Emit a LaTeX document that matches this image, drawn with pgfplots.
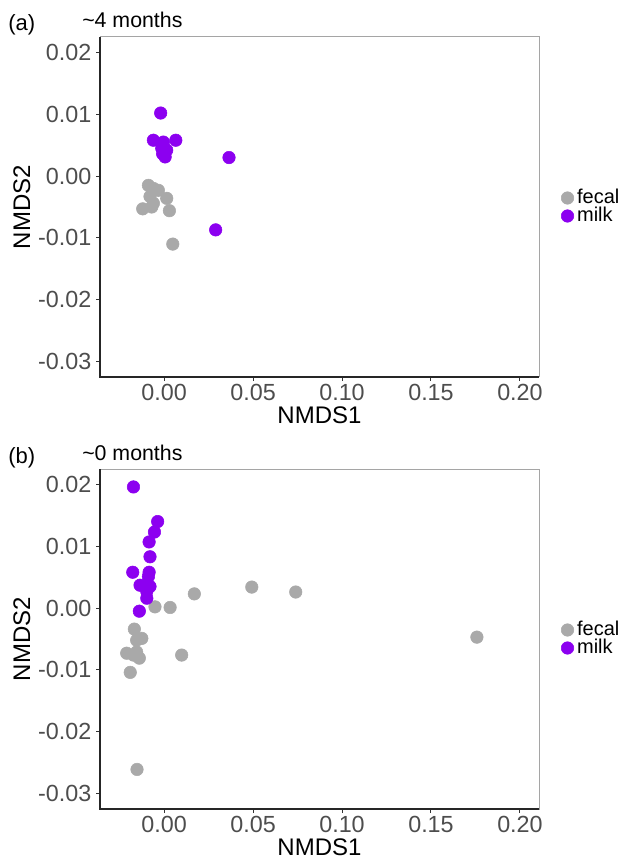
\documentclass[border=0pt]{standalone}
\usepackage{fontspec}
\setmainfont{Liberation Sans}
\usepackage{pgfplots}
\pgfplotsset{compat=1.18}
\definecolor{fecal}{RGB}{169,169,169}
\definecolor{milk}{RGB}{140,0,240}
\definecolor{tickgray}{RGB}{77,77,77}
\definecolor{framegray}{RGB}{165,165,165}

\pgfplotsset{
  nmds/.style={
    scale only axis, width=329.25pt, height=255pt,
    xmin=-0.036, xmax=0.2107, ymin=-0.0325, ymax=0.0225,
    xtick={0,0.05,0.1,0.15,0.2},
    xticklabels={0.00,0.05,0.10,0.15,0.20},
    ytick={-0.03,-0.02,-0.01,0,0.01,0.02},
    yticklabels={-0.03,-0.02,-0.01,0.00,0.01,0.02},
    scaled ticks=false,
    tick label style={font=\fontsize{17.5}{20}\selectfont, text=tickgray},
    xticklabel style={yshift=1pt},
    tick align=outside, major tick length=3pt,
    tick style={color=black!80, line width=0.75pt},
    xtick pos=bottom, ytick pos=left,
    axis line style={framegray, line width=0.75pt},
    label style={font=\fontsize{18}{20}\selectfont, text=black},
    xlabel={NMDS1}, ylabel={NMDS2},
    xlabel style={at={(axis description cs:0.5,-0.086)}, anchor=north, inner sep=0pt, text depth=0pt},
    ylabel style={at={(axis description cs:-0.1777,0.5)}, anchor=center, inner sep=0pt},
    legend cell align=left,
    legend style={at={(axis description cs:1.0501,0.5)}, anchor=west, draw=none, fill=none,
      inner sep=0pt, font=\fontsize{15}{15}\selectfont, row sep=0pt,
      nodes={inner sep=0pt, text height=10.8pt, text depth=2.7pt},
      /tikz/every odd column/.append style={column sep=2.5pt}},
    legend image code/.code={\draw[##1] plot coordinates {(0pt,0pt)};},
    after end axis/.code={\draw[black!85, line width=1.1pt] (rel axis cs:0,1) -- (rel axis cs:0,0) -- (rel axis cs:1,0);},
  },
  fecalpts/.style={only marks, mark=*, color=fecal, mark size=4.7pt},
  milkpts/.style={only marks, mark=*, color=milk, mark size=4.7pt},
}

\pgfplotstableread{
x y
-0.0088 -0.0015
-0.0060 -0.0020
-0.0032 -0.0023
0.0015 -0.0036
-0.0079 -0.0033
-0.0060 -0.0044
-0.0120 -0.0053
-0.0069 -0.0050
0.0030 -0.0056
0.0049 -0.0110
}\fecalA

\pgfplotstableread{
x y
-0.0019 0.0102
-0.0060 0.0058
0.0066 0.0058
-0.0004 0.0055
-0.0013 0.0045
0.0015 0.0042
-0.0008 0.0036
0.0006 0.0031
0.0365 0.0030
0.0290 -0.0087
}\milkA

\pgfplotstableread{
x y
-0.0051 0.0002
0.0034 0.0001
0.0170 0.0023
0.0493 0.0034
0.0740 0.0026
0.1758 -0.0047
0.0099 -0.0076
-0.0167 -0.0034
-0.0125 -0.0049
-0.0154 -0.0052
-0.0210 -0.0073
-0.0154 -0.0071
-0.0139 -0.0081
-0.0172 -0.0076
-0.0190 -0.0104
-0.0152 -0.0261
}\fecalB

\pgfplotstableread{
x y
-0.0172 0.0196
-0.0036 0.0140
-0.0054 0.0123
-0.0084 0.0107
-0.0079 0.0083
-0.0176 0.0058
-0.0084 0.0058
-0.0088 0.0051
-0.0135 0.0037
-0.0079 0.0035
-0.0097 0.0027
-0.0097 0.0016
-0.0139 -0.0005
}\milkB

\begin{document}
\begin{tikzpicture}
\useasboundingbox (0,0) rectangle (474.75pt,-644.25pt);

\begin{axis}[nmds, at={(75pt,-27.75pt)}, anchor=north west]
\addplot[fecalpts] table {\fecalA};
\addlegendentry{fecal}
\addplot[milkpts] table {\milkA};
\addlegendentry{milk}
\end{axis}

\begin{axis}[nmds, at={(75pt,-351.75pt)}, anchor=north west]
\addplot[fecalpts] table {\fecalB};
\addlegendentry{fecal}
\addplot[milkpts] table {\milkB};
\addlegendentry{milk}
\end{axis}

\node[anchor=base west, inner sep=0pt, font=\fontsize{16.5}{16.5}\selectfont] at (6pt,-23.25pt) {(a)};
\node[anchor=base west, inner sep=0pt, font=\fontsize{16}{16}\selectfont] at (61.5pt,-21pt) {\textasciitilde 4 months};
\node[anchor=base west, inner sep=0pt, font=\fontsize{16.5}{16.5}\selectfont] at (6pt,-347.25pt) {(b)};
\node[anchor=base west, inner sep=0pt, font=\fontsize{16}{16}\selectfont] at (61.5pt,-345pt) {\textasciitilde 0 months};
\end{tikzpicture}
\end{document}
